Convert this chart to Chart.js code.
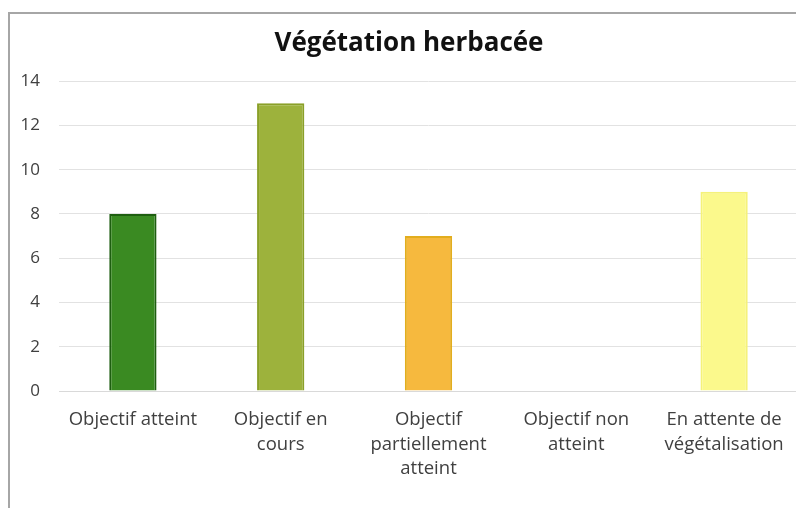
<!DOCTYPE html>
<html>
<head>
<meta charset="utf-8">
<script src="https://cdn.jsdelivr.net/npm/chart.js@4"></script>
<style>
html,body{margin:0;padding:0;background:#fff;overflow:hidden;width:796px;height:508px;}
#wrap{position:absolute;left:0;top:0;width:820px;height:508px;}
#frame{position:absolute;left:8px;top:12px;width:900px;height:600px;border-left:2px solid #a6a6a6;border-top:2px solid #a6a6a6;pointer-events:none;}
</style>
</head>
<body>
<div id="wrap"><canvas id="c" width="820" height="508"></canvas></div>
<div id="frame"></div>
<script>
const categories = [
  ["Objectif atteint"],
  ["Objectif en", "cours"],
  ["Objectif", "partiellement", "atteint"],
  ["Objectif non", "atteint"],
  ["En attente de", "végétalisation"]
];
const values = [8, 13, 7, 0, 9];
const fillColors = ["#3a8a22", "#9db23c", "#f6b93e", "#e6d24a", "#fbf98c"];
const edgeColors = ["#1e5e10", "#8aa028", "#e2ad1e", "#e6d24a", "#f5f27a"];
const titleText = "Végétation herbacée";
const yMin = 0, yMax = 14, yStep = 2;

new Chart(document.getElementById('c'), {
  type: 'bar',
  data: {
    labels: categories,
    datasets: [{
      data: values,
      backgroundColor: fillColors,
      borderColor: edgeColors,
      borderWidth: 2,
      categoryPercentage: 1,
      barPercentage: 0.32
    }]
  },
  options: {
    responsive: false,
    animation: false,
    layout: { padding: { left: 20, right: 22, top: 0, bottom: 0 } },
    plugins: {
      legend: { display: false },
      tooltip: { enabled: false },
      title: {
        display: true,
        text: titleText,
        color: '#111',
        font: { family: 'Open Sans', size: 26, weight: 'bold', lineHeight: 1.2 },
        padding: { top: 28, bottom: 22 }
      }
    },
    scales: {
      x: {
        grid: { display: false, drawTicks: false },
        border: { display: true, color: '#d9d9d9', width: 1 },
        ticks: {
          color: '#404040',
          padding: 17,
          maxRotation: 0,
          autoSkip: false,
          font: { family: 'Open Sans', size: 18.5, lineHeight: 1.32 }
        },
        afterFit: s => { s.height = 117; }
      },
      y: {
        min: yMin, max: yMax,
        grid: { color: '#e2e2e2', drawTicks: false, lineWidth: 1 },
        border: { display: false },
        ticks: {
          stepSize: yStep,
          color: '#404040',
          padding: 19,
          font: { family: 'Open Sans', size: 17 }
        },
        afterFit: s => { s.width = 39; }
      }
    }
  }
});
</script>
</body>
</html>
